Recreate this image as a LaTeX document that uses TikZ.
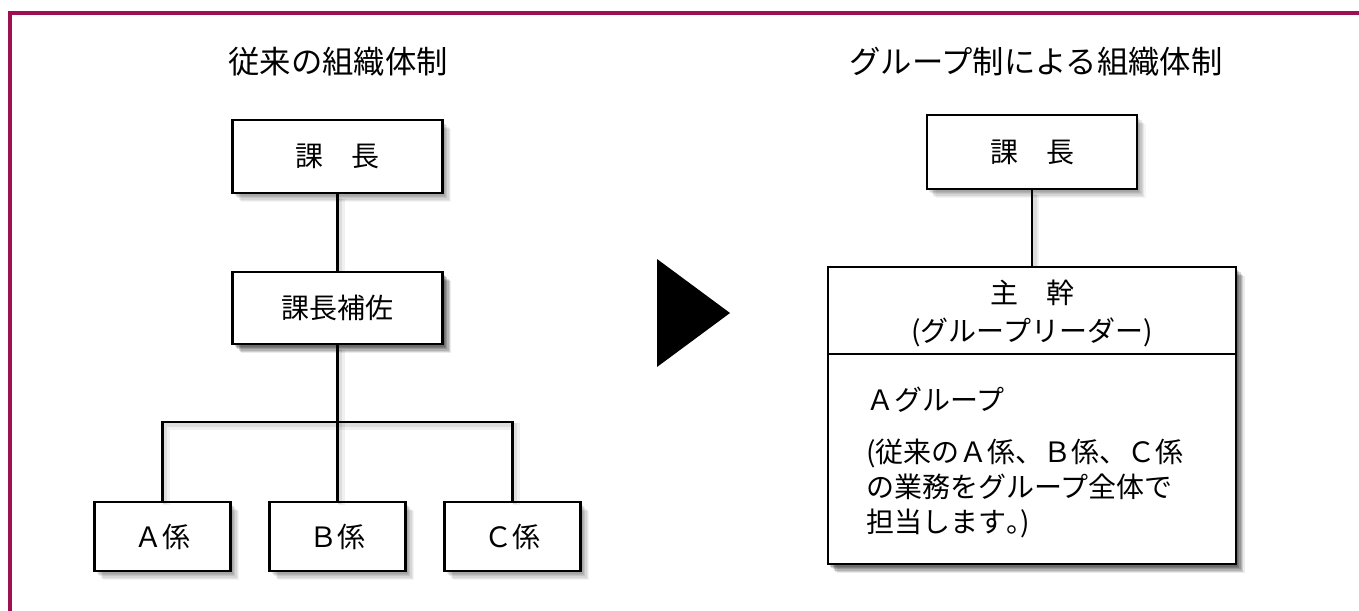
\documentclass[tikz,border=0pt]{standalone}
\usepackage{fontspec}
\setmainfont{Noto Sans CJK JP}
\definecolor{framec}{RGB}{158,16,82}
\begin{document}
\begin{tikzpicture}[x=0.75pt,y=-0.75pt,
  shd/.style={
    preaction={fill=black,opacity=0.08,transform canvas={shift={(1.5pt,-2pt)}}},
    preaction={fill=black,opacity=0.08,transform canvas={shift={(2.5pt,-3pt)}}},
    preaction={fill=black,opacity=0.08,transform canvas={shift={(3.5pt,-4pt)}}},
    preaction={fill=black,opacity=0.07,transform canvas={shift={(4.5pt,-5pt)}}},
    preaction={fill=black,opacity=0.06,transform canvas={shift={(5.5pt,-6pt)}}},
    preaction={fill=black,opacity=0.04,transform canvas={shift={(6.5pt,-7pt)}}}},
  lshd/.style={
    preaction={draw=black,opacity=0.08,line width=3pt,transform canvas={shift={(2pt,-2.5pt)}}},
    preaction={draw=black,opacity=0.06,line width=5pt,transform canvas={shift={(3pt,-3.5pt)}}}},
  box/.style={draw=black, line width=2.2pt, fill=white, inner sep=0pt,
    font=\fontsize{21}{25}\selectfont, shd},
  conn/.style={draw=black, line width=1.7pt, lshd},
  ttl/.style={font=\fontsize{23.5}{28}\selectfont, inner sep=0pt},
  txt/.style={font=\fontsize{21}{26.25}\selectfont, inner sep=0pt}]
\useasboundingbox (0,0) rectangle (1359,610);
\fill[white] (0,0) rectangle (1359,610);
% frame
\draw[framec, line width=3pt] (10,640) -- (10,13) -- (1390,13);
% titles
\node[ttl] (t1) at (338,62) {従来の組織体制};
\node[ttl] (t2) at (1036,62) {グループ制による組織体制};
% left tree
\node[box, minimum width=210*0.75pt, minimum height=73*0.75pt] (k1) at (337.5,156.5) {課　長};
\node[box, minimum width=210*0.75pt, minimum height=72*0.75pt] (k2) at (337.5,308) {課長補佐};
\node[box, minimum width=136*0.75pt, minimum height=69*0.75pt] (a) at (162.5,536.5) {Ａ係};
\node[box, minimum width=136*0.75pt, minimum height=69*0.75pt] (b) at (337.5,536.5) {Ｂ係};
\node[box, minimum width=136*0.75pt, minimum height=69*0.75pt] (c) at (512.5,536.5) {Ｃ係};
\coordinate (bus) at (337.5,422);
\draw[conn] (k1.south) -- (k2.north);
\draw[conn] (k2.south) -- (bus);
\draw[conn] (a.north) |- (bus);
\draw[conn] (c.north) |- (bus);
\draw[conn] (bus) -- (b.north);
% redraw box on top of line shadows
\node[box, minimum width=210*0.75pt, minimum height=72*0.75pt] at (k2) {課長補佐};
% arrow triangle
\fill[black] (657,259) -- (657,367) -- (730,313) -- cycle;
% right side
\node[box, minimum width=210*0.75pt, minimum height=74*0.75pt] (r1) at (1032,152) {課　長};
\node[box, minimum width=408*0.75pt, minimum height=297*0.75pt] (grp) at (1032,415.5) {};
\draw[conn] (r1.south) -- (grp.north);
\node[box, minimum width=408*0.75pt, minimum height=297*0.75pt] at (grp) {};
\coordinate (dv) at (1032,354);
\draw[line width=2.2pt] (grp.west |- dv) -- (grp.east |- dv);
\node[txt] (lead) at (1032,293) {主　幹};
\node[txt] (leadsub) at (1032,332) {(グループリーダー)};
\node[txt, anchor=west] (gname) at (866,400) {Ａグループ};
\node[txt, anchor=west, align=left] (gdesc) at (866,488) {(従来のＡ係、Ｂ係、Ｃ係\\の業務をグループ全体で\\担当します{\addfontfeature{RawFeature=+halt}。})};
\end{tikzpicture}
\end{document}
